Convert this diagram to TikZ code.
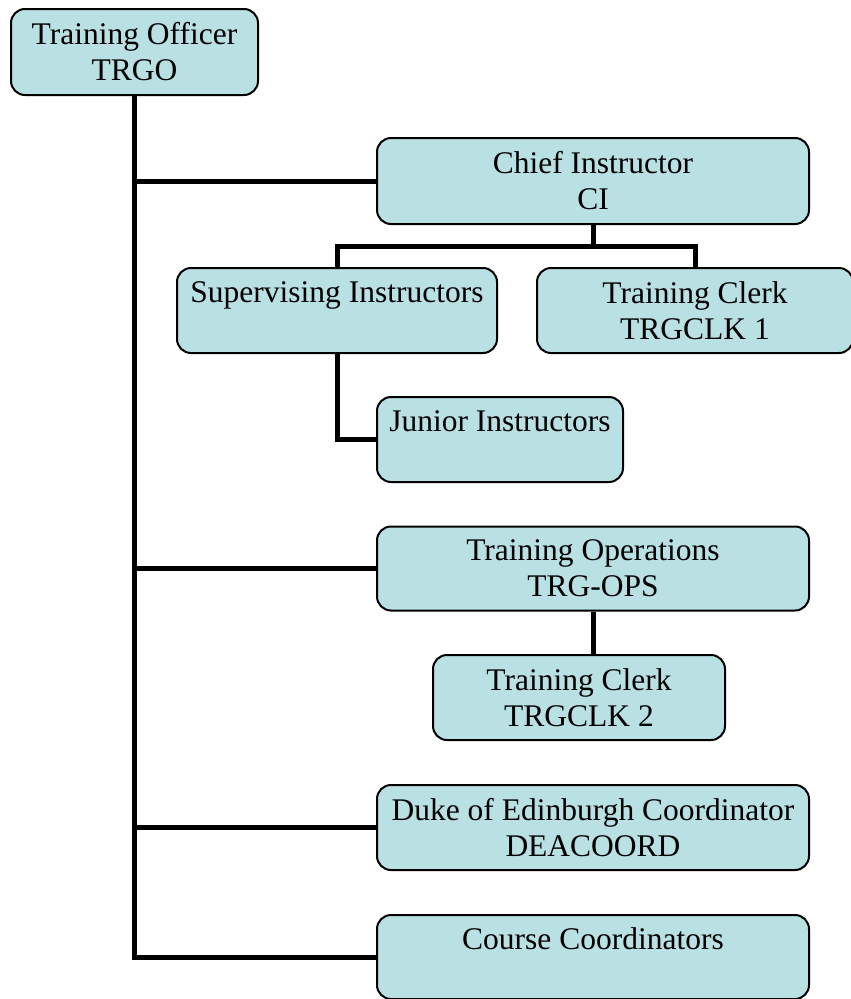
\documentclass[tikz,border=0pt]{standalone}
\usepackage{fontspec}
\setmainfont{Liberation Serif}

\definecolor{boxfill}{HTML}{B9E0E3}

\tikzset{
  post/.style={draw=black, line width=2pt, fill=boxfill, rounded corners=14pt,
    align=center, inner sep=0pt, font=\fontsize{31.5}{36}\selectfont},
  link/.style={line width=5pt}
}

\begin{document}
\begin{tikzpicture}[x=1pt, y=-1pt]
  \useasboundingbox (0,0) rectangle (851,999);

  % Posts
  \node[post, minimum width=247pt, minimum height=86pt] (trgo) at (134.5,52) {Training Officer\\TRGO};
  \node[post, minimum width=432pt, minimum height=86pt] (ci) at (593,181) {Chief Instructor\\CI};
  \node[post, minimum width=320pt, minimum height=85pt] (si) at (337,310.5) {Supervising Instructors\\\mbox{}};
  \node[post, minimum width=316pt, minimum height=85pt] (tc1) at (695,310.5) {Training Clerk\\TRGCLK 1};
  \node[post, minimum width=246pt, minimum height=85pt] (ji) at (500,439.5) {Junior Instructors\\\mbox{}};
  \node[post, minimum width=432pt, minimum height=84pt] (ops) at (593,568.5) {Training Operations\\TRG-OPS};
  \node[post, minimum width=292pt, minimum height=85pt] (tc2) at (579,697.5) {Training Clerk\\TRGCLK 2};
  \node[post, minimum width=432pt, minimum height=85pt] (dea) at (593,827.5) {Duke of Edinburgh Coordinator\\DEACOORD};
  \node[post, minimum width=432pt, minimum height=84pt] (course) at (593,957) {Course Coordinators\\\mbox{}};

  % Trunk
  \draw[link] (trgo.south) |- (course.west);
  \draw[link] (trgo.south |- ci.west) -- (ci.west);
  \draw[link] (trgo.south |- ops.west) -- (ops.west);
  \draw[link] (trgo.south |- dea.west) -- (dea.west);

  % Chief Instructor branch
  \draw[link] (ci.south) -- ++(0,21) coordinate (cifork);
  \draw[link] (si.north) |- (cifork) -| (tc1.north);
  \draw[link] (si.south) |- (ji.west);

  % Operations branch
  \draw[link] (ops.south) -- (ops.south |- tc2.north);
\end{tikzpicture}
\end{document}
